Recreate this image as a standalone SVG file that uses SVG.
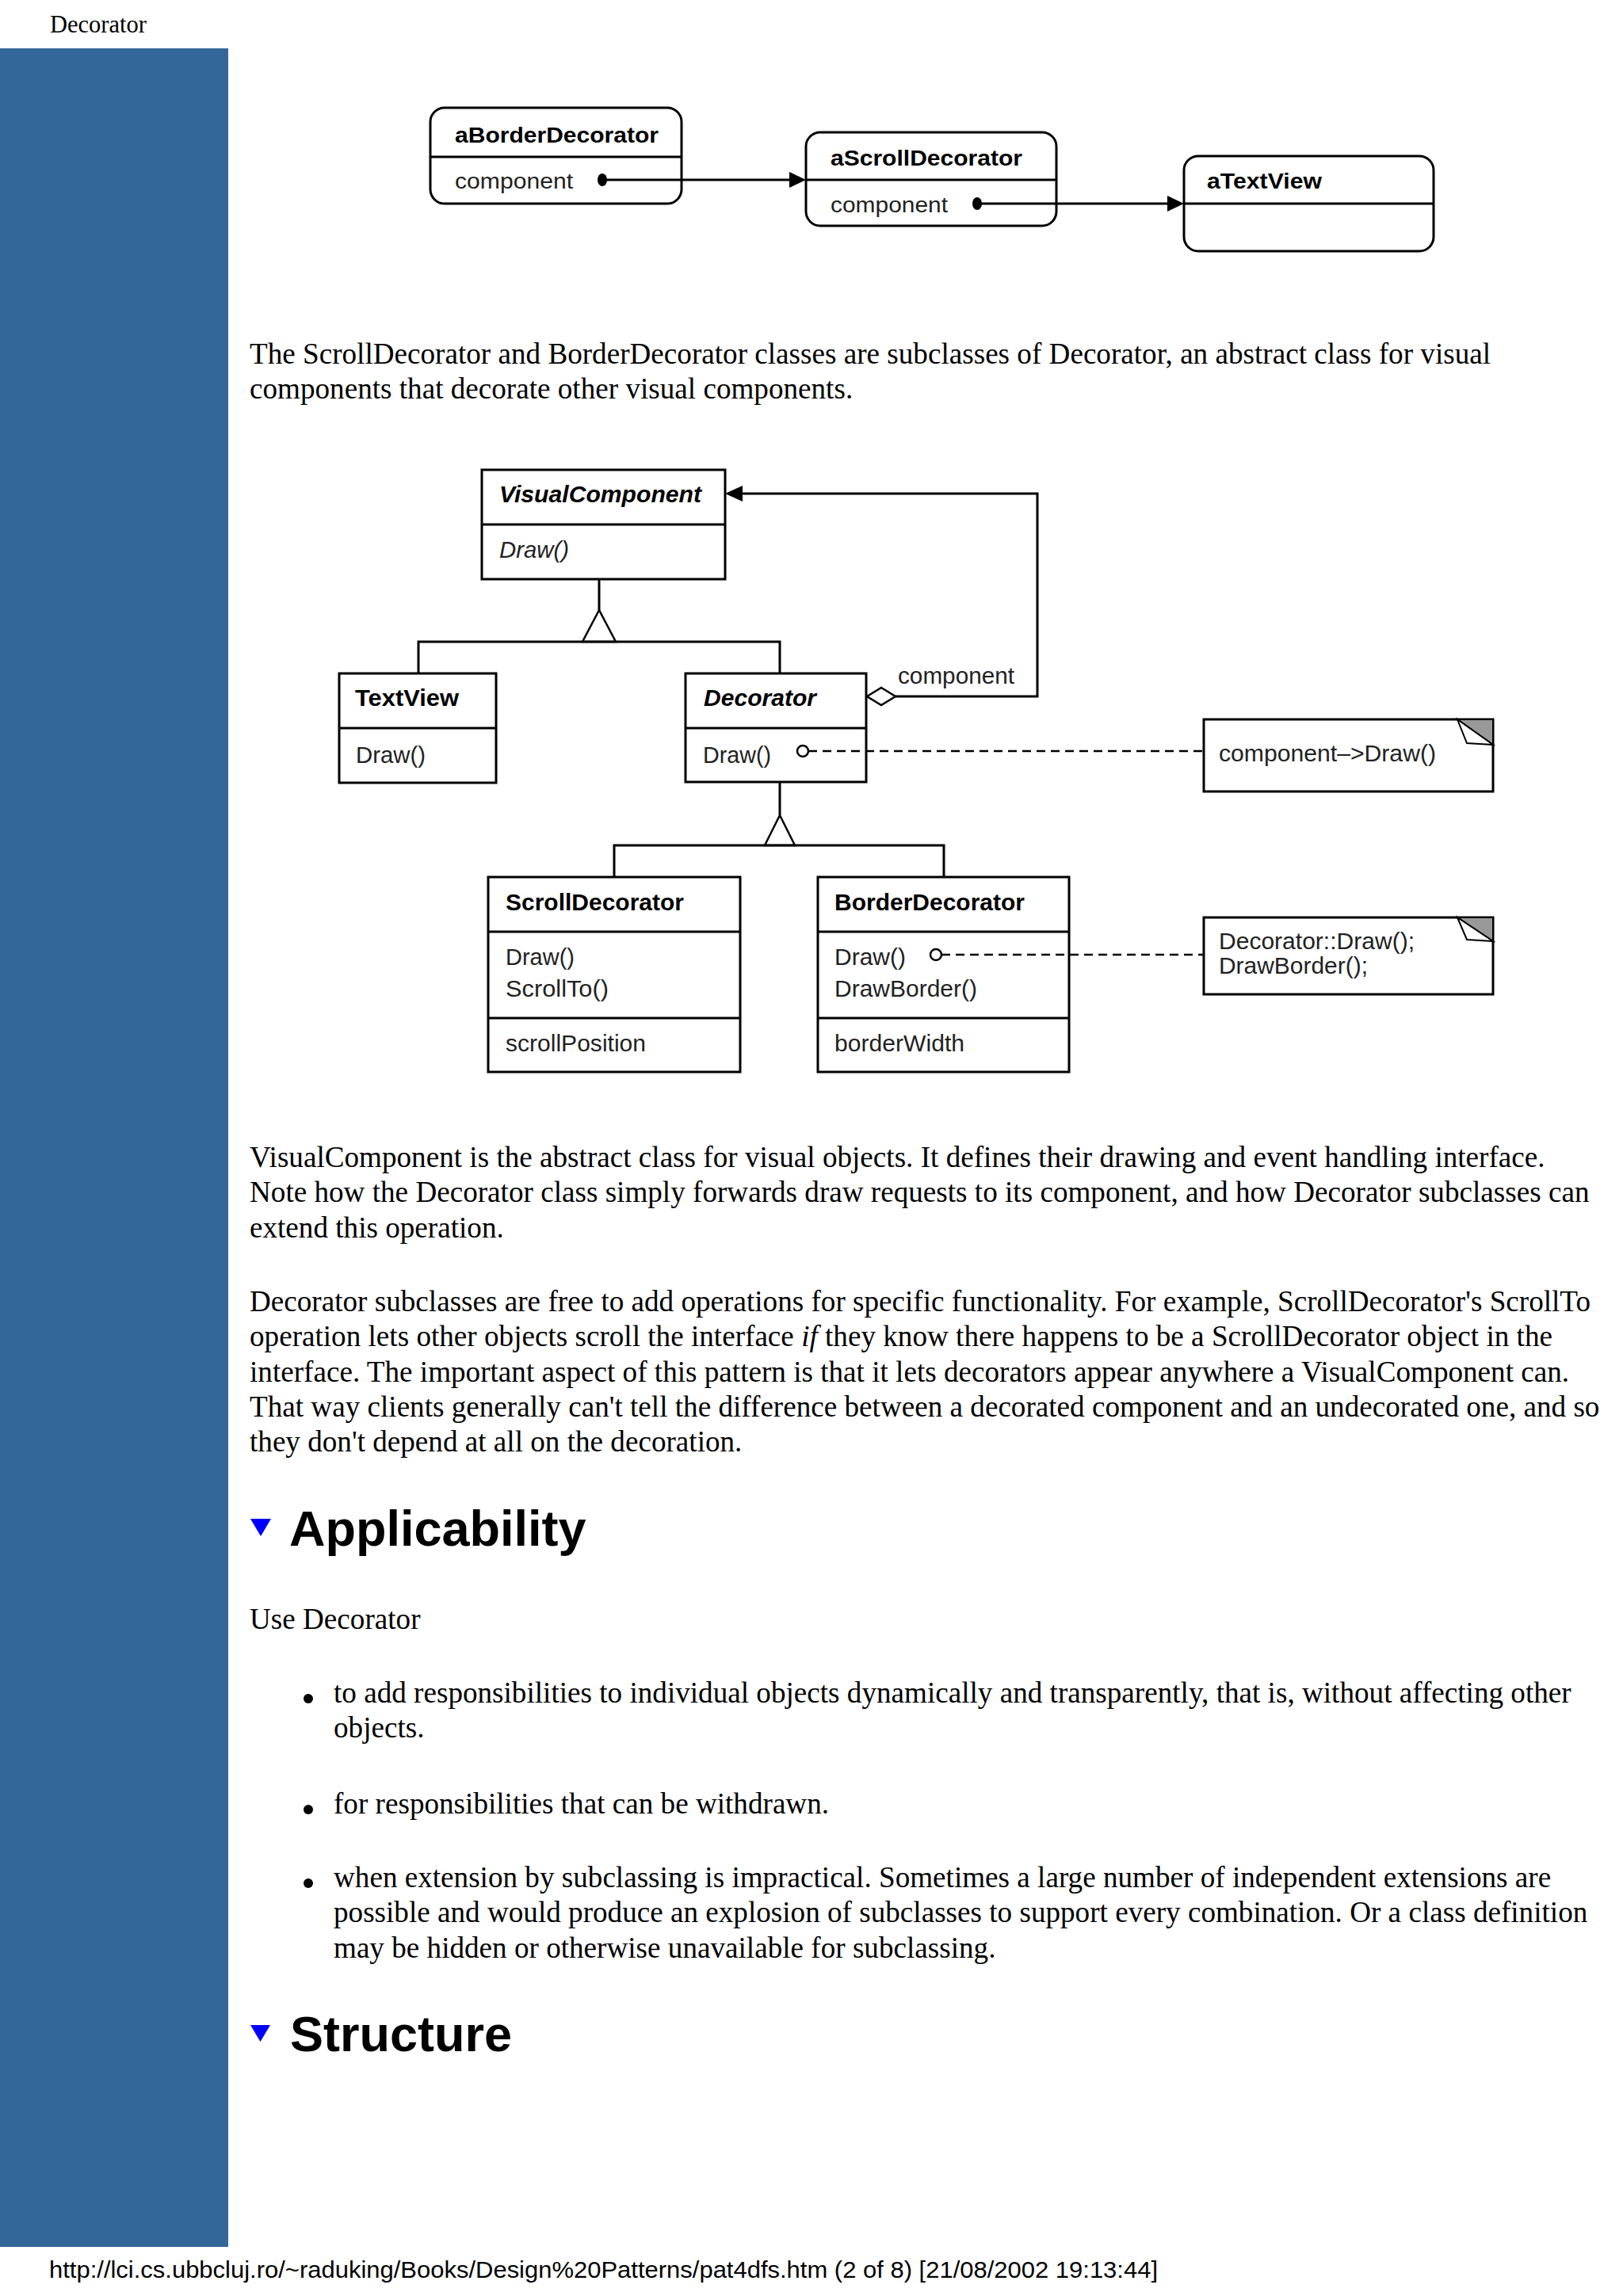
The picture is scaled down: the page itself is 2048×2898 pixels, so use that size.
<svg xmlns="http://www.w3.org/2000/svg" width="2048" height="2898" viewBox="0 0 2048 2898">
<style>
.body{font-family:"Liberation Serif","Times New Roman",serif;font-size:37.15px;fill:#000}
.h{font-family:"Liberation Sans",Arial,sans-serif;font-size:63px;font-weight:bold;fill:#000}
.d1{font-family:"Liberation Sans",Arial,sans-serif;font-size:27px;fill:#222}
.d2{font-family:"Liberation Sans",Arial,sans-serif;font-size:29px;fill:#222}
.b{font-weight:bold;fill:#000}
.i{font-style:italic}
.box{fill:#fff;stroke:#000;stroke-width:3}
.ln{fill:none;stroke:#000;stroke-width:3}
.dash{fill:none;stroke:#000;stroke-width:2.5;stroke-dasharray:11 7}
</style>
<rect x="0" y="0" width="2048" height="2898" fill="#fff"/>
<rect x="0" y="61" width="288" height="2775" fill="#336699"/>
<text x="63" y="41" style="font-family:'Liberation Serif','Times New Roman',serif;font-size:30.5px">Decorator</text>

<!-- Object diagram -->
<g id="aBorderDecorator">
<rect class="box" x="543" y="136" width="317" height="121" rx="18" ry="18"/>
<line class="ln" x1="543" y1="198" x2="860" y2="198"/>
<text class="d1 b" x="574" y="180" textLength="257" lengthAdjust="spacingAndGlyphs">aBorderDecorator</text>
<text class="d1" x="574" y="238" textLength="149" lengthAdjust="spacingAndGlyphs">component</text>
</g>
<g id="aScrollDecorator">
<rect class="box" x="1017" y="167" width="316" height="118" rx="18" ry="18"/>
<line class="ln" x1="1017" y1="227" x2="1333" y2="227"/>
<text class="d1 b" x="1048" y="209" textLength="242" lengthAdjust="spacingAndGlyphs">aScrollDecorator</text>
<text class="d1" x="1048" y="268" textLength="148" lengthAdjust="spacingAndGlyphs">component</text>
</g>
<g id="aTextView">
<rect class="box" x="1494" y="197" width="315" height="120" rx="18" ry="18"/>
<line class="ln" x1="1494" y1="257" x2="1809" y2="257"/>
<text class="d1 b" x="1523" y="238" textLength="145" lengthAdjust="spacingAndGlyphs">aTextView</text>
</g>

<!-- Class diagram -->
<g id="VisualComponent">
<rect class="box" x="608" y="593" width="307" height="138"/>
<line class="ln" x1="608" y1="662" x2="915" y2="662"/>
<text class="d2 b i" x="630" y="634" textLength="255" lengthAdjust="spacingAndGlyphs">VisualComponent</text>
<text class="d2 i" x="630" y="704" textLength="88" lengthAdjust="spacingAndGlyphs">Draw()</text>
</g>
<g id="TextView">
<rect class="box" x="428" y="850" width="198" height="138"/>
<line class="ln" x1="428" y1="919" x2="626" y2="919"/>
<text class="d2 b" x="448" y="891" textLength="131" lengthAdjust="spacingAndGlyphs">TextView</text>
<text class="d2" x="449" y="963" textLength="88" lengthAdjust="spacingAndGlyphs">Draw()</text>
</g>
<g id="Decorator">
<rect class="box" x="865" y="850" width="228" height="137"/>
<line class="ln" x1="865" y1="919" x2="1093" y2="919"/>
<text class="d2 b i" x="888" y="891" textLength="142" lengthAdjust="spacingAndGlyphs">Decorator</text>
<text class="d2" x="887" y="963" textLength="86" lengthAdjust="spacingAndGlyphs">Draw()</text>
</g>
<g id="ScrollDecorator">
<rect class="box" x="616" y="1107" width="318" height="246"/>
<line class="ln" x1="616" y1="1176" x2="934" y2="1176"/>
<line class="ln" x1="616" y1="1285" x2="934" y2="1285"/>
<text class="d2 b" x="638" y="1149" textLength="225" lengthAdjust="spacingAndGlyphs">ScrollDecorator</text>
<text class="d2" x="638" y="1218" textLength="87" lengthAdjust="spacingAndGlyphs">Draw()</text>
<text class="d2" x="638" y="1258" textLength="130" lengthAdjust="spacingAndGlyphs">ScrollTo()</text>
<text class="d2" x="638" y="1327" textLength="177" lengthAdjust="spacingAndGlyphs">scrollPosition</text>
</g>
<g id="BorderDecorator">
<rect class="box" x="1032" y="1107" width="317" height="246"/>
<line class="ln" x1="1032" y1="1176" x2="1349" y2="1176"/>
<line class="ln" x1="1032" y1="1285" x2="1349" y2="1285"/>
<text class="d2 b" x="1053" y="1149" textLength="240" lengthAdjust="spacingAndGlyphs">BorderDecorator</text>
<text class="d2" x="1053" y="1218" textLength="90" lengthAdjust="spacingAndGlyphs">Draw()</text>
<text class="d2" x="1053" y="1258" textLength="180" lengthAdjust="spacingAndGlyphs">DrawBorder()</text>
<text class="d2" x="1053" y="1327" textLength="164" lengthAdjust="spacingAndGlyphs">borderWidth</text>
</g>
<g id="note1">
<rect class="box" x="1519" y="908" width="365" height="91"/>
<polygon points="1839,908 1884,908 1884,940" fill="#999" stroke="#000" stroke-width="2"/>
<polygon points="1839,908 1851,938 1884,940" fill="#fff" stroke="#000" stroke-width="2"/>
<text class="d2" x="1538" y="961" textLength="274" lengthAdjust="spacingAndGlyphs">component–&gt;Draw()</text>
</g>
<g id="note2">
<rect class="box" x="1519" y="1158" width="365" height="97"/>
<polygon points="1839,1158 1884,1158 1884,1188" fill="#999" stroke="#000" stroke-width="2"/>
<polygon points="1839,1158 1851,1186 1884,1188" fill="#fff" stroke="#000" stroke-width="2"/>
<text class="d2" x="1538" y="1198" textLength="247" lengthAdjust="spacingAndGlyphs">Decorator::Draw();</text>
<text class="d2" x="1538" y="1229" textLength="188" lengthAdjust="spacingAndGlyphs">DrawBorder();</text>
</g>

<g id="connectors">
<!-- object references -->
<line class="ln" x1="760" y1="227" x2="999" y2="227"/>
<ellipse cx="760" cy="227" rx="6" ry="8" fill="#000"/>
<polygon points="1017,227 996,217 996,237" fill="#000"/>
<line class="ln" x1="1233" y1="257" x2="1476" y2="257"/>
<ellipse cx="1233" cy="257" rx="6" ry="8" fill="#000"/>
<polygon points="1494,257 1473,247 1473,267" fill="#000"/>
<!-- inheritance 1 -->
<line class="ln" x1="756" y1="731" x2="756" y2="770"/>
<polygon points="756,770 735,810 777,810" fill="#fff" stroke="#000" stroke-width="2.5"/>
<polyline class="ln" points="528,850 528,810 984,810 984,850"/>
<!-- inheritance 2 -->
<line class="ln" x1="984" y1="987" x2="984" y2="1029"/>
<polygon points="984,1029 965,1067 1003,1067" fill="#fff" stroke="#000" stroke-width="2.5"/>
<polyline class="ln" points="775,1107 775,1067 1191,1067 1191,1107"/>
<!-- aggregation component -->
<polyline class="ln" points="1130,879 1309,879 1309,623 935,623"/>
<polygon points="1094,879 1112,868 1130,879 1112,890" fill="#fff" stroke="#000" stroke-width="2.5"/>
<polygon points="915,623 937,613 937,633" fill="#000"/>
<text class="d2" x="1133" y="863" textLength="147" lengthAdjust="spacingAndGlyphs">component</text>
<!-- note links -->
<line class="dash" x1="1020" y1="948" x2="1519" y2="948"/>
<circle cx="1013" cy="948" r="7" fill="#fff" stroke="#000" stroke-width="2.5"/>
<line class="dash" x1="1188" y1="1205" x2="1519" y2="1205"/>
<circle cx="1181" cy="1205" r="7" fill="#fff" stroke="#000" stroke-width="2.5"/>
</g>

<!-- Body text -->
<text class="body" x="315" y="458.5">The ScrollDecorator and BorderDecorator classes are subclasses of Decorator, an abstract class for visual</text>
<text class="body" x="315" y="502.8">components that decorate other visual components.</text>

<text class="body" x="315" y="1473">VisualComponent is the abstract class for visual objects. It defines their drawing and event handling interface.</text>
<text class="body" x="315" y="1517.3">Note how the Decorator class simply forwards draw requests to its component, and how Decorator subclasses can</text>
<text class="body" x="315" y="1561.6">extend this operation.</text>

<text class="body" x="315" y="1655">Decorator subclasses are free to add operations for specific functionality. For example, ScrollDecorator's ScrollTo</text>
<text class="body" x="315" y="1699.3">operation lets other objects scroll the interface <tspan font-style="italic">if</tspan> they know there happens to be a ScrollDecorator object in the</text>
<text class="body" x="315" y="1743.6">interface. The important aspect of this pattern is that it lets decorators appear anywhere a VisualComponent can.</text>
<text class="body" x="315" y="1787.9">That way clients generally can't tell the difference between a decorated component and an undecorated one, and so</text>
<text class="body" x="315" y="1832.2">they don't depend at all on the decoration.</text>

<polygon points="316,1917 342,1917 329,1939" fill="#0000ff"/>
<text class="h" x="365" y="1951">Applicability</text>
<text class="body" x="315" y="2055.5">Use Decorator</text>

<circle cx="389" cy="2144" r="6" fill="#000"/>
<text class="body" x="421" y="2149">to add responsibilities to individual objects dynamically and transparently, that is, without affecting other</text>
<text class="body" x="421" y="2193.3">objects.</text>
<circle cx="389" cy="2284" r="6" fill="#000"/>
<text class="body" x="421" y="2289">for responsibilities that can be withdrawn.</text>
<circle cx="389" cy="2377" r="6" fill="#000"/>
<text class="body" x="421" y="2382">when extension by subclassing is impractical. Sometimes a large number of independent extensions are</text>
<text class="body" x="421" y="2426.3">possible and would produce an explosion of subclasses to support every combination. Or a class definition</text>
<text class="body" x="421" y="2470.6">may be hidden or otherwise unavailable for subclassing.</text>

<polygon points="316,2556 341,2556 328.5,2577" fill="#0000ff"/>
<text class="h" x="366" y="2589">Structure</text>

<text x="62" y="2875" textLength="1399" lengthAdjust="spacingAndGlyphs" style="font-family:'Liberation Sans',Arial,sans-serif;font-size:30px">http://lci.cs.ubbcluj.ro/~raduking/Books/Design%20Patterns/pat4dfs.htm (2 of 8) [21/08/2002 19:13:44]</text>
</svg>
